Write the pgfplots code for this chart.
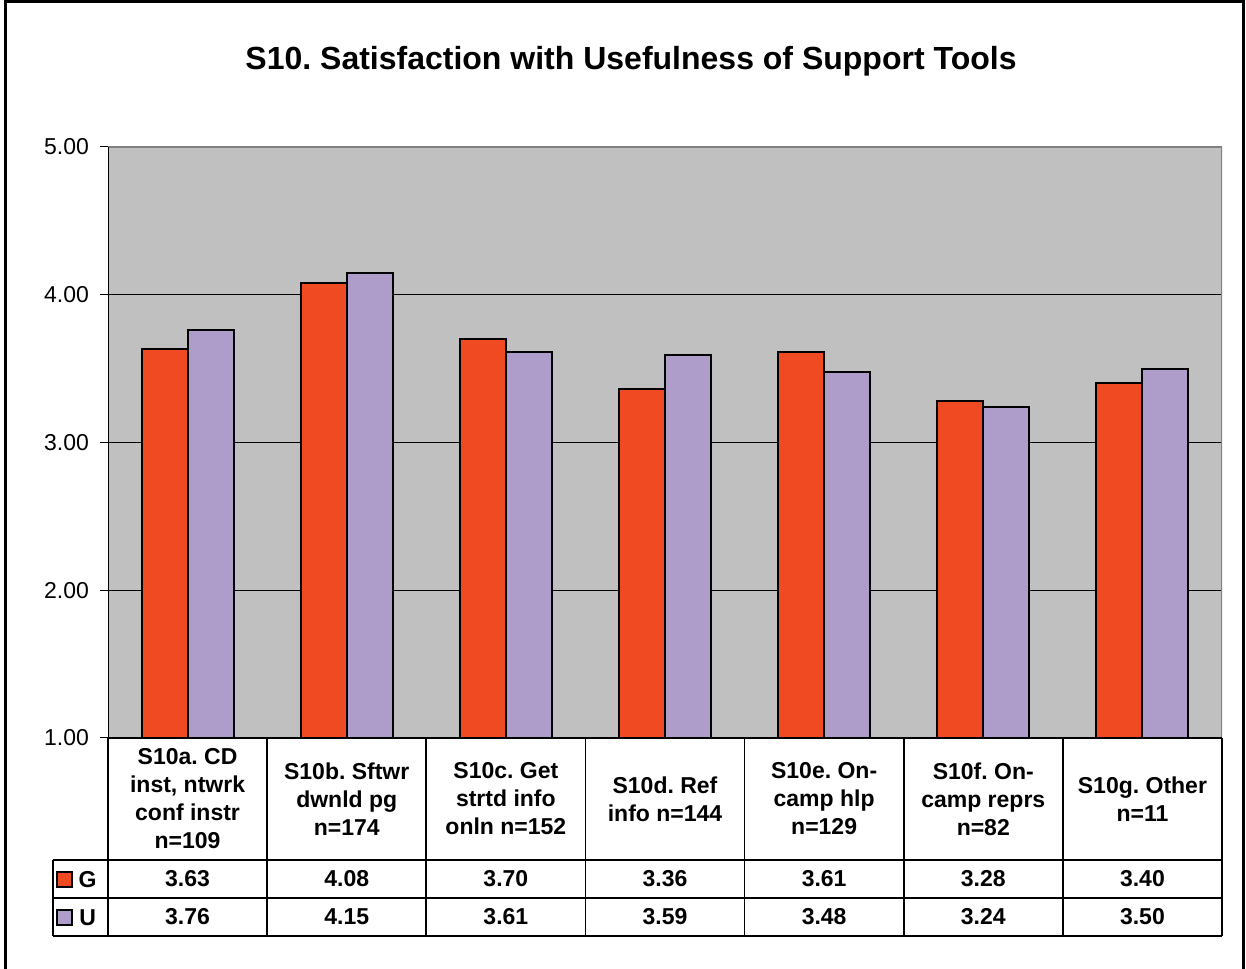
\documentclass[border=0pt]{standalone}
\usepackage{pgfplots}
\usepackage{pgfplotstable}
\pgfplotsset{compat=1.18}
\usepackage{fontspec}
\setmainfont{Liberation Sans}

\definecolor{gcol}{RGB}{240,74,35}
\definecolor{ucol}{RGB}{174,157,203}
\definecolor{plotbg}{RGB}{192,192,192}
\definecolor{rimgray}{RGB}{128,128,128}

% x = slot centre, G and U = mean satisfaction
\pgfplotstableread{
x   G    U
0.5 3.63 3.76
1.5 4.08 4.15
2.5 3.70 3.61
3.5 3.36 3.59
4.5 3.61 3.48
5.5 3.28 3.24
6.5 3.40 3.50
}\satdata

\newcommand\cellfont{\fontsize{11.5}{14}\selectfont\bfseries}

\begin{document}
\frenchspacing
\begin{tikzpicture}
\useasboundingbox (0,0) rectangle (623pt,484pt);
% outer frame
\draw[line width=1.5pt] (2.5pt,-3pt) -- (2.5pt,483pt) -- (621.5pt,483pt) -- (621.5pt,-3pt);

\node[font=\fontsize{16}{19}\selectfont\bfseries] at (315.5pt,453.5pt)
  {S10. Satisfaction with Usefulness of Support Tools};

\begin{axis}[
  at={(54pt,115pt)}, anchor=south west,
  scale only axis,
  width=557pt, height=295.5pt,
  xmin=0, xmax=7, ymin=1, ymax=5,
  axis line style={draw=none},
  axis background/.style={fill=plotbg},
  ytick={1,2,3,4,5},
  ytick pos=left,
  ymajorgrids,
  grid style={black, line width=0.5pt},
  tick align=outside,
  major tick length=4pt,
  ytick style={black, line width=0.5pt},
  yticklabel style={font=\fontsize{11.5}{14}\selectfont, xshift=-2pt,
    /pgf/number format/.cd, fixed, fixed zerofill, precision=2, assume math mode=true},
  xtick={0.5,1.5,2.5,3.5,4.5,5.5,6.5},
  xtick style={draw=none},
  xticklabels={
    {S10a. CD\\inst, ntwrk\\conf instr\\n=109},
    {S10b. Sftwr\\dwnld pg\\n=174},
    {S10c. Get\\strtd info\\onln n=152},
    {S10d. Ref\\info n=144},
    {S10e. On-\\camp hlp\\n=129},
    {S10f. On-\\camp reprs\\n=82},
    {S10g. Other\\n=11}},
  xticklabel style={font=\cellfont, align=center, anchor=center, yshift=-26.5pt},
  enlargelimits=false,
  ybar=0pt,
  bar width=0.289,
]
\addplot[fill=gcol, draw=black, line width=1pt, bar shift=-0.1445] table[x=x, y=G] {\satdata};
\addplot[fill=ucol, draw=black, line width=1pt, bar shift=0.1445] table[x=x, y=U] {\satdata};
\draw[rimgray, line width=1pt] (rel axis cs:0,1) -- (rel axis cs:1,1) -- (rel axis cs:1,0);
\draw[black, line width=0.8pt] (rel axis cs:0,0) -- (rel axis cs:0,1);
\end{axis}

% data table grid
\draw[black, line width=0.8pt] (54pt,115pt) -- (611pt,115pt);
\foreach \y in {54,35,16} \draw[black, line width=0.8pt] (26.5pt,\y pt) -- (611pt,\y pt);
\foreach \k in {0,...,7} \draw[black, line width=0.8pt] ({54pt+79.571pt*\k},115pt) -- ({54pt+79.571pt*\k},16pt);
\draw[black, line width=0.8pt] (26.5pt,54pt) -- (26.5pt,16pt);

% legend keys
\draw[fill=gcol, draw=black, line width=0.8pt] (28.5pt,40.5pt) rectangle (36pt,48pt);
\node[font=\cellfont] at (43.8pt,44pt) {G};
\draw[fill=ucol, draw=black, line width=0.8pt] (28.5pt,21.5pt) rectangle (36pt,29pt);
\node[font=\cellfont] at (43.8pt,25pt) {U};

% table values
\foreach \i in {0,...,6}{
  \pgfplotstablegetelem{\i}{G}\of\satdata
  \node[font=\cellfont] at ({54pt+79.571pt*(\i+0.5)},44.5pt)
    {\pgfmathprintnumber[fixed,fixed zerofill,precision=2,assume math mode=true]{\pgfplotsretval}};
  \pgfplotstablegetelem{\i}{U}\of\satdata
  \node[font=\cellfont] at ({54pt+79.571pt*(\i+0.5)},25.5pt)
    {\pgfmathprintnumber[fixed,fixed zerofill,precision=2,assume math mode=true]{\pgfplotsretval}};
}
\end{tikzpicture}
\end{document}
